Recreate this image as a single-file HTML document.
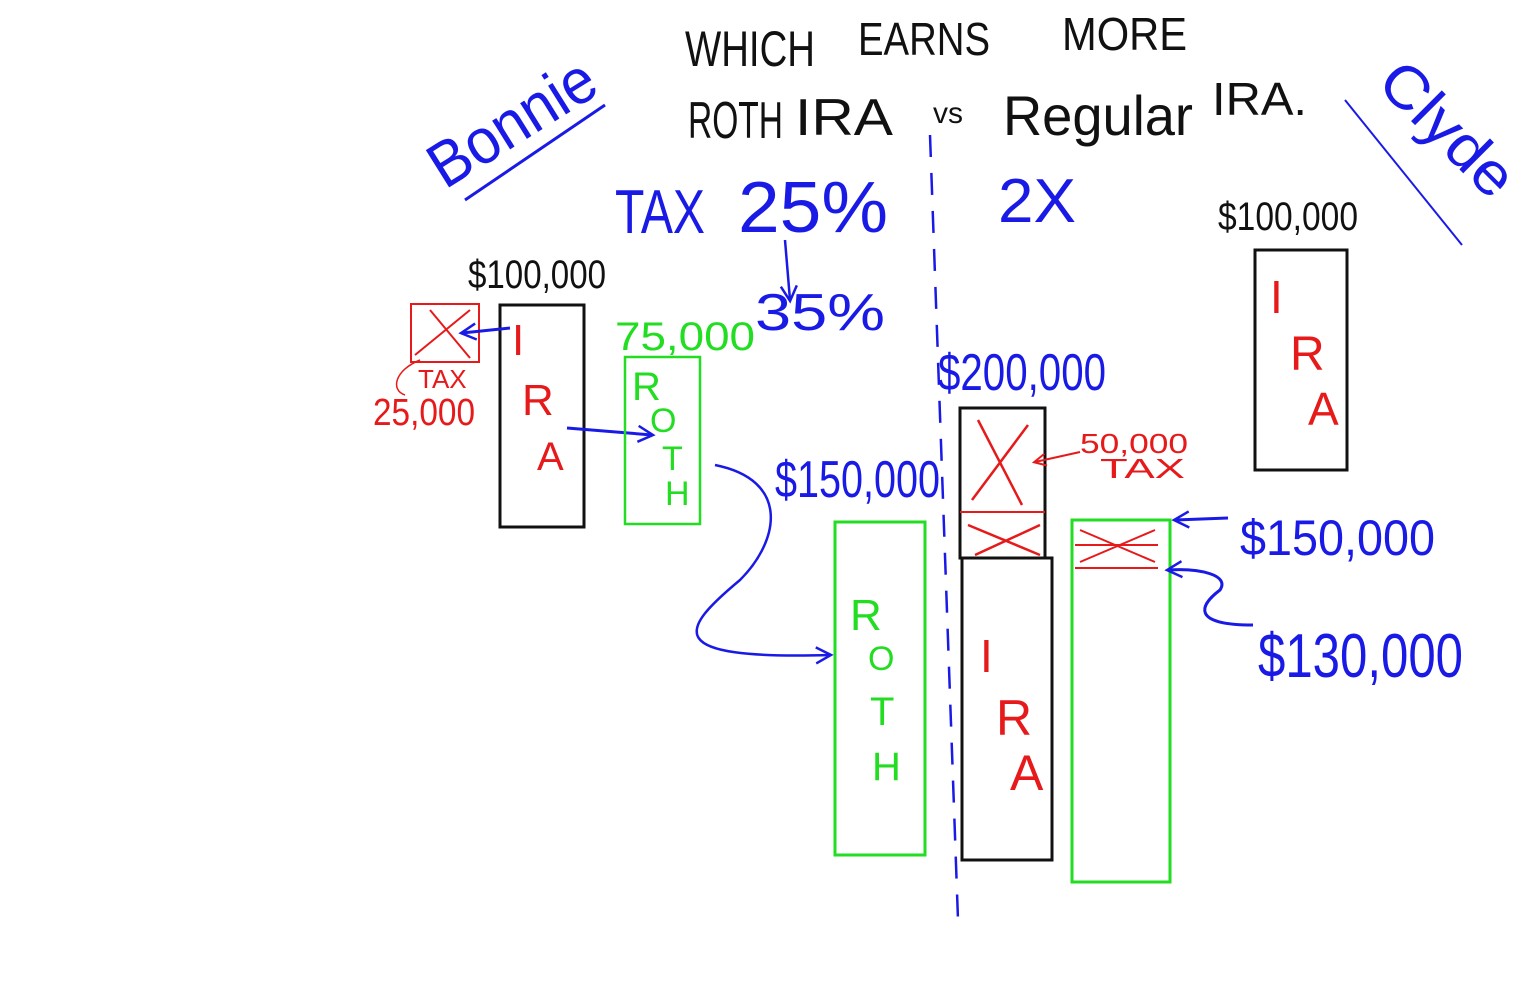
<!DOCTYPE html>
<html><head><meta charset="utf-8"><style>
html,body{margin:0;padding:0;background:#fff;width:1529px;height:994px;overflow:hidden}
svg{display:block}
text{font-family:"Liberation Sans",sans-serif}
</style></head><body>
<svg width="1529" height="994" viewBox="0 0 1529 994" xmlns="http://www.w3.org/2000/svg">
<defs>
<marker id="ab" markerUnits="userSpaceOnUse" markerWidth="20" markerHeight="20" refX="16" refY="10" orient="auto"><path d="M2,2 L17,10 L2,18" fill="none" stroke="#1a1ae6" stroke-width="2.5"/></marker>
<marker id="ar" markerUnits="userSpaceOnUse" markerWidth="16" markerHeight="16" refX="13" refY="8" orient="auto"><path d="M2,2 L14,8 L2,14" fill="none" stroke="#e61a1a" stroke-width="2"/></marker>
</defs>
<rect width="1529" height="994" fill="#fff"/>
<text x="685" y="66" font-size="50" fill="#111" textLength="130" lengthAdjust="spacingAndGlyphs">WHICH</text>
<text x="858" y="55" font-size="46" fill="#111" textLength="132" lengthAdjust="spacingAndGlyphs">EARNS</text>
<text x="1062" y="50" font-size="46" fill="#111" textLength="125" lengthAdjust="spacingAndGlyphs">MORE</text>
<text x="688" y="138" font-size="52" fill="#111" textLength="95" lengthAdjust="spacingAndGlyphs">ROTH</text>
<text x="795" y="135" font-size="52" fill="#111" textLength="98" lengthAdjust="spacingAndGlyphs">IRA</text>
<text x="933" y="123" font-size="30" fill="#111">vs</text>
<text x="1003" y="135" font-size="56" fill="#111" textLength="190" lengthAdjust="spacingAndGlyphs">Regular</text>
<text x="1212" y="115" font-size="46" fill="#111" textLength="95" lengthAdjust="spacingAndGlyphs">IRA.</text>
<text x="0" y="0" font-size="64" fill="#1a1ae6" transform="translate(445,190) rotate(-32)" textLength="185" lengthAdjust="spacingAndGlyphs">Bonnie</text>
<path d="M465,200 L605,105" stroke="#1a1ae6" stroke-width="3" fill="none"/>
<text x="0" y="0" font-size="60" fill="#1a1ae6" transform="translate(1375,85) rotate(45)" textLength="165" lengthAdjust="spacingAndGlyphs">Clyde</text>
<path d="M1345,100 L1462,245" stroke="#1a1ae6" stroke-width="2" fill="none"/>
<text x="615" y="233" font-size="62" fill="#1a1ae6" textLength="90" lengthAdjust="spacingAndGlyphs">TAX</text>
<text x="738" y="232" font-size="72" fill="#1a1ae6" textLength="150" lengthAdjust="spacingAndGlyphs">25%</text>
<text x="998" y="222" font-size="62" fill="#1a1ae6" textLength="78" lengthAdjust="spacingAndGlyphs">2X</text>
<path d="M785,240 L790,300" stroke="#1a1ae6" stroke-width="2.5" marker-end="url(#ab)" fill="none"/>
<text x="755" y="330" font-size="52" fill="#1a1ae6" textLength="130" lengthAdjust="spacingAndGlyphs">35%</text>
<text x="615" y="350" font-size="40" fill="#22dd22" textLength="140" lengthAdjust="spacingAndGlyphs">75,000</text>
<text x="468" y="288" font-size="40" fill="#111" textLength="138" lengthAdjust="spacingAndGlyphs">$100,000</text>
<text x="1218" y="230" font-size="40" fill="#111" textLength="140" lengthAdjust="spacingAndGlyphs">$100,000</text>
<rect x="500" y="305" width="84" height="222" fill="none" stroke="#111" stroke-width="3"/>
<text x="512" y="355" font-size="44" fill="#e61a1a">I</text>
<text x="522" y="415" font-size="44" fill="#e61a1a">R</text>
<text x="537" y="470" font-size="40" fill="#e61a1a">A</text>
<rect x="411" y="304" width="68" height="58" fill="none" stroke="#e61a1a" stroke-width="2"/>
<path d="M415,355 L470,310 M430,310 L470,358" stroke="#e61a1a" stroke-width="2"/>
<path d="M510,328 L462,333" stroke="#1a1ae6" stroke-width="3" marker-end="url(#ab)"/>
<text x="418" y="388" font-size="26" fill="#e61a1a">TAX</text>
<text x="373" y="425" font-size="38" fill="#e61a1a" textLength="102" lengthAdjust="spacingAndGlyphs">25,000</text>
<path d="M420,360 C395,370 390,390 405,395" stroke="#e61a1a" stroke-width="1.5" fill="none"/>
<path d="M567,428 L652,435" stroke="#1a1ae6" stroke-width="3" marker-end="url(#ab)"/>
<rect x="625" y="357" width="75" height="167" fill="none" stroke="#22dd22" stroke-width="2.5"/>
<text x="632" y="400" font-size="40" fill="#22dd22">R</text>
<text x="650" y="432" font-size="34" fill="#22dd22">O</text>
<text x="662" y="470" font-size="34" fill="#22dd22">T</text>
<text x="665" y="505" font-size="34" fill="#22dd22">H</text>
<path d="M715,465 C790,480 780,540 740,580 C680,630 660,660 830,655" stroke="#1a1ae6" stroke-width="2.5" fill="none" marker-end="url(#ab)"/>
<text x="775" y="497" font-size="52" fill="#1a1ae6" textLength="165" lengthAdjust="spacingAndGlyphs">$150,000</text>
<rect x="835" y="522" width="90" height="333" fill="none" stroke="#22dd22" stroke-width="3"/>
<text x="850" y="630" font-size="44" fill="#22dd22">R</text>
<text x="868" y="670" font-size="34" fill="#22dd22">O</text>
<text x="870" y="725" font-size="40" fill="#22dd22">T</text>
<text x="872" y="780" font-size="40" fill="#22dd22">H</text>
<path d="M930,135 L958,920" stroke="#1a1ae6" stroke-width="2.5" stroke-dasharray="22,16" fill="none"/>
<text x="938" y="390" font-size="52" fill="#1a1ae6" textLength="168" lengthAdjust="spacingAndGlyphs">$200,000</text>
<rect x="960" y="408" width="85" height="150" fill="none" stroke="#111" stroke-width="3"/>
<path d="M960,512 L1045,512" stroke="#e61a1a" stroke-width="2"/>
<path d="M978,420 L1022,505 M1028,425 L972,500 M968,525 L1040,555 M1040,525 L975,555" stroke="#e61a1a" stroke-width="2.5"/>
<rect x="962" y="558" width="90" height="302" fill="none" stroke="#111" stroke-width="3"/>
<text x="980" y="672" font-size="46" fill="#e61a1a">I</text>
<text x="996" y="735" font-size="50" fill="#e61a1a">R</text>
<text x="1010" y="790" font-size="50" fill="#e61a1a">A</text>
<path d="M1080,452 L1035,462" stroke="#e61a1a" stroke-width="2" marker-end="url(#ar)"/>
<text x="1080" y="453" font-size="28" fill="#e61a1a" textLength="108" lengthAdjust="spacingAndGlyphs">50,000</text>
<text x="1100" y="478" font-size="28" fill="#e61a1a" textLength="85" lengthAdjust="spacingAndGlyphs">TAX</text>
<rect x="1072" y="520" width="98" height="362" fill="none" stroke="#22dd22" stroke-width="3"/>
<path d="M1075,545 L1158,545 M1075,568 L1158,568 M1080,530 L1155,562 M1155,530 L1080,562" stroke="#e61a1a" stroke-width="2"/>
<path d="M1228,518 L1175,520" stroke="#1a1ae6" stroke-width="3" marker-end="url(#ab)"/>
<text x="1240" y="555" font-size="50" fill="#1a1ae6" textLength="195" lengthAdjust="spacingAndGlyphs">$150,000</text>
<path d="M1253,625 C1190,625 1200,605 1220,590 C1230,575 1200,568 1168,570" stroke="#1a1ae6" stroke-width="3" fill="none" marker-end="url(#ab)"/>
<text x="1258" y="677" font-size="62" fill="#1a1ae6" textLength="205" lengthAdjust="spacingAndGlyphs">$130,000</text>
<rect x="1255" y="250" width="92" height="220" fill="none" stroke="#111" stroke-width="3"/>
<text x="1270" y="313" font-size="46" fill="#e61a1a">I</text>
<text x="1290" y="370" font-size="48" fill="#e61a1a">R</text>
<text x="1308" y="425" font-size="46" fill="#e61a1a">A</text>
</svg>
</body></html>
